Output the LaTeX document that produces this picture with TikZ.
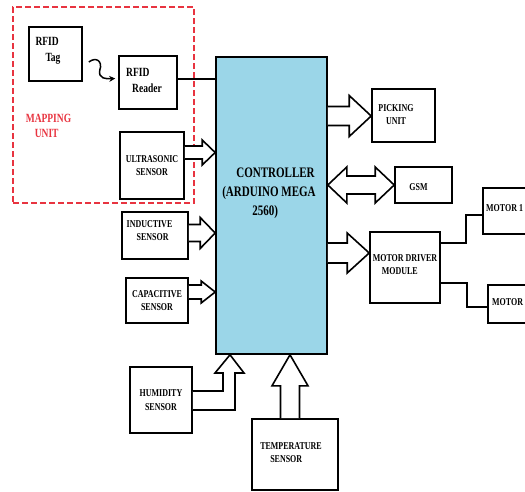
\documentclass[tikz,border=0pt]{standalone}
\usepackage{fontspec}
\newfontfamily\lab{Liberation Serif}[FakeStretch=0.76]
\usetikzlibrary{calc,arrows.meta}
\definecolor{ctrlblue}{RGB}{155,214,232}
\definecolor{mapred}{RGB}{232,52,64}
\newcommand\rarrow[5]{%
  \draw[hollow] let \p1=(#1), \p2=(#2) in
    (\x1,\y1+#3pt) -- (\x2-#5pt,\y1+#3pt) -- (\x2-#5pt,\y1+#4pt) -- (\x2,\y1)
    -- (\x2-#5pt,\y1-#4pt) -- (\x2-#5pt,\y1-#3pt) -- (\x1,\y1-#3pt);}
\newcommand\darrow[5]{%
  \draw[hollow] let \p1=(#1), \p2=(#2) in
    (\x1,\y1) -- (\x1+#5pt,\y1+#4pt) -- (\x1+#5pt,\y1+#3pt) -- (\x2-#5pt,\y1+#3pt)
    -- (\x2-#5pt,\y1+#4pt) -- (\x2,\y1) -- (\x2-#5pt,\y1-#4pt) -- (\x2-#5pt,\y1-#3pt)
    -- (\x1+#5pt,\y1-#3pt) -- (\x1+#5pt,\y1-#4pt) -- cycle;}
\newcommand\uarrow[5]{%
  \draw[hollow] let \p1=(#1), \p2=(#2) in
    (\x1-#3pt,\y1) -- (\x1-#3pt,\y2-#5pt) -- (\x1-#4pt,\y2-#5pt) -- (\x1,\y2)
    -- (\x1+#4pt,\y2-#5pt) -- (\x1+#3pt,\y2-#5pt) -- (\x1+#3pt,\y1);}
\begin{document}
\begin{tikzpicture}[x=1pt,y=-1pt,
  box/.style={draw, line width=1.6pt, inner sep=0pt, align=center,
    font=\lab\bfseries\fontsize{10.5}{13}\selectfont},
  lt/.style={inner sep=0pt, font=\lab\bfseries\fontsize{10.5}{13}\selectfont},
  big/.style={inner sep=0pt, align=left, font=\lab\bfseries\fontsize{12.5}{15.5}\selectfont},
  hollow/.style={draw, line width=1.6pt, fill=white, line join=miter},
  wire/.style={draw, line width=1.4pt}]
\useasboundingbox (0,0) rectangle (525,491);

% mapping unit frame
\node[draw=mapred, line width=1.2pt, dash pattern=on 6pt off 3pt, minimum width=181pt,
  minimum height=196pt, inner sep=0pt] (map) at (103.5,105) {};
\node[big, text=mapred] (mapt) at (48.5,126) {MAPPING\\\hspace*{9pt}UNIT};

% boxes
\node[box, minimum width=53pt, minimum height=54pt,
  label={[big, xshift=-7.5pt, yshift=3pt]center:{RFID\\\hspace*{10pt}Tag}}] (tag) at (55.5,54) {};
\node[box, minimum width=58pt, minimum height=53pt,
  label={[big, xshift=-4pt, yshift=2pt]center:{RFID\\\hspace*{6pt}Reader}}] (reader) at (148,82.5) {};
\node[box, minimum width=64pt, minimum height=67pt] (us) at (152,165.5) {ULTRASONIC\\SENSOR};
\node[box, fill=ctrlblue, minimum width=111pt, minimum height=297pt,
  label={[inner sep=0pt, align=left, font=\lab\bfseries\fontsize{14.5}{19}\selectfont,
    xshift=-2.5pt, yshift=12.5pt]center:{\hspace*{14pt}CONTROLLER\\(ARDUINO MEGA\\\hspace*{30pt}2560)}}]
  (ctrl) at (271.5,205.5) {};
\node[box, minimum width=63pt, minimum height=53pt,
  label={[lt, align=center, xshift=-7.5pt, yshift=1pt]center:{PICKING\\UNIT}}] (pick) at (403.5,115.5) {};
\node[box, minimum width=57pt, minimum height=36pt,
  label={[lt, xshift=-5pt, yshift=-2pt]center:{GSM}}] (gsm) at (423.5,185) {};
\node[box, minimum width=70pt, minimum height=71pt,
  label={[lt, align=left, yshift=2.5pt]center:{MOTOR DRIVER\\\hspace*{9pt}MODULE}}] (mdm) at (405,267.5) {};
\node[box, minimum width=52pt, minimum height=46pt] (m1) at (509,211) {};
\node[lt, anchor=west] (m1t) at (486,208) {MOTOR 1};
\node[box, minimum width=52pt, minimum height=38pt] (m2) at (514,304) {};
\node[lt, anchor=west] (m2t) at (492,302) {MOTOR};
\node[box, minimum width=66pt, minimum height=47pt,
  label={[lt, align=left, xshift=-5.5pt, yshift=4.5pt]center:{INDUCTIVE\\\hspace*{10pt}SENSOR}}] (ind) at (155,235.5) {};
\node[box, minimum width=62pt, minimum height=45pt] (cap) at (157,300.5) {CAPACITIVE\\SENSOR};
\node[box, minimum width=62pt, minimum height=66pt,
  font=\lab\bfseries\fontsize{10.5}{14}\selectfont] (hum) at (161,400) {HUMIDITY\\SENSOR};
\node[box, minimum width=86pt, minimum height=71pt,
  label={[lt, align=left, xshift=-4pt, yshift=2pt]center:{TEMPERATURE\\\hspace*{10pt}SENSOR}}] (temp) at (295,454.5) {};

% connectors
\draw[wire] ([yshift=3.5pt]reader.east) -- ([yshift=3.5pt]reader.east -| ctrl.west);
\draw[line width=1.5pt, -{Stealth[length=6pt,width=6pt]}]
  ($(tag.east)+(6,8)$) .. controls ($(tag.east)+(14,2)$) and ($(tag.east)+(20,8)$) .. ($(tag.east)+(17,16)$)
  .. controls ($(tag.east)+(15,25)$) and ($(tag.east)+(24,25)$) .. ($(reader.west)+(-3,-4)$);
\draw[wire] ([yshift=24.5pt]mdm.east) -| (466,215) -- (m1.west |- 0,215);
\draw[wire] ([yshift=-15.5pt]mdm.east) -| (467,307) -- (m2.west |- 0,307);

\rarrow{us.east |- 0,152.5}{ctrl.west}{6.5}{12.5}{13}
\rarrow{ind.east |- 0,233}{ctrl.west}{8.5}{15.5}{15}
\rarrow{cap.east |- 0,292}{ctrl.west}{7}{11}{14}
\rarrow{ctrl.east |- 0,116}{pick.west}{9.5}{20.5}{22}
\rarrow{ctrl.east |- 0,253}{mdm.west}{10}{20}{22}
\darrow{ctrl.east |- 0,185}{gsm.west}{9}{18}{19}
\uarrow{temp.north -| 290,0}{ctrl.south -| 290,0}{9.5}{18}{31}
\draw[hollow] (hum.east |- 0,391) -- (223,391) -- (223,373) -- (215,373)
  -- (ctrl.south -| 230,0) -- (244,373) -- (235,373) -- (235,410) -- (hum.east |- 0,410);
\end{tikzpicture}
\end{document}
